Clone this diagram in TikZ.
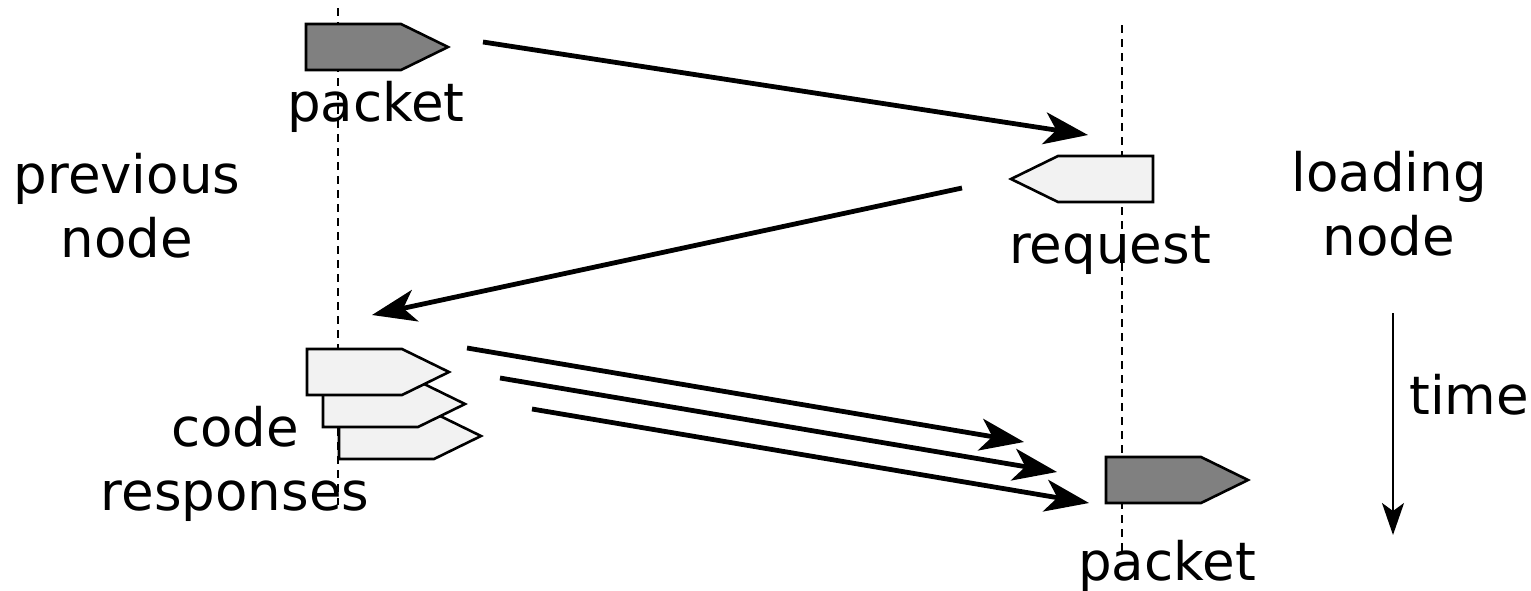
\documentclass[tikz,border=0pt]{standalone}
\usepackage{fontspec}
\setmainfont{DejaVu Sans}
\usepackage{tikz}
\usetikzlibrary{positioning,arrows.meta,calc}
\definecolor{pktdark}{HTML}{808080}
\definecolor{pktlight}{HTML}{F2F2F2}
\tikzset{
  pkt/.pic={\path[pic actions] (0,0) -- (95,0) -- (142,23) -- (95,46) -- (0,46) -- cycle;},
  pktbox/.style={draw=black,line width=1.3pt,fill=#1},
  life/.style={draw=black,line width=0.8pt,dash pattern=on 4pt off 3pt},
  msg/.style={-{Stealth[length=22pt,width=16pt,inset=6pt]},line width=2.4pt},
  lbl/.style={font=\fontsize{26.5}{32}\selectfont,align=center,inner sep=0pt},
}
\begin{document}
\begin{tikzpicture}[x=0.5pt,y=-0.5pt]
  \useasboundingbox (0,0) rectangle (1531,590);
  % lifelines
  \coordinate (prevtop) at (338,8);
  \coordinate (prevbot) at (338,505);
  \coordinate (loadtop) at (1122,25);
  \coordinate (loadbot) at (1122,555);
  \draw[life] (prevtop) -- (prevbot);
  \draw[life] (loadtop) -- (loadbot);
  % packets, request and responses
  \pic[pktbox=pktdark] at (306,24) {pkt};
  \pic[pktbox=pktlight,xscale=-1] at (1153,156) {pkt};
  \pic[pktbox=pktlight] at (339,413) {pkt};
  \pic[pktbox=pktlight] at (323,381) {pkt};
  \pic[pktbox=pktlight] at (307,349) {pkt};
  \pic[pktbox=pktdark] at (1106,457) {pkt};
  % labels (base = last line)
  \node[lbl,anchor=base] (pkttop) at (376,121) {packet};
  \node[lbl,anchor=base] (req) at (1110,263) {request};
  \node[lbl,anchor=base] (pktbot) at (1167,580) {packet};
  \node[lbl,anchor=base] (prev) at (127,257) {previous\\node};
  \node[lbl,anchor=base] (load) at (1389,255) {loading\\node};
  \node[lbl,anchor=base] (resp) at (235,510) {code\\responses};
  \node[lbl,anchor=base west] (time) at (1409,414) {time};
  % messages
  \coordinate (m1a) at (483,42);   \coordinate (m1b) at (1088,135);
  \coordinate (m2a) at (962,188);  \coordinate (m2b) at (372,315);
  \coordinate (m3a) at (467,348);  \coordinate (m3b) at (1024,442);
  \coordinate (m4a) at (500,378);  \coordinate (m4b) at (1057,472);
  \coordinate (m5a) at (532,409);  \coordinate (m5b) at (1089,503);
  \draw[msg] (m1a) -- (m1b);
  \draw[msg] (m2a) -- (m2b);
  \draw[msg] (m3a) -- (m3b);
  \draw[msg] (m4a) -- (m4b);
  \draw[msg] (m5a) -- (m5b);
  % time axis
  \coordinate (tbeg) at (1393,313);
  \coordinate (tend) at (1393,535);
  \draw[-{Stealth[length=16pt,width=11pt,inset=4pt]},line width=1pt] (tbeg) -- (tend);
\end{tikzpicture}
\end{document}
